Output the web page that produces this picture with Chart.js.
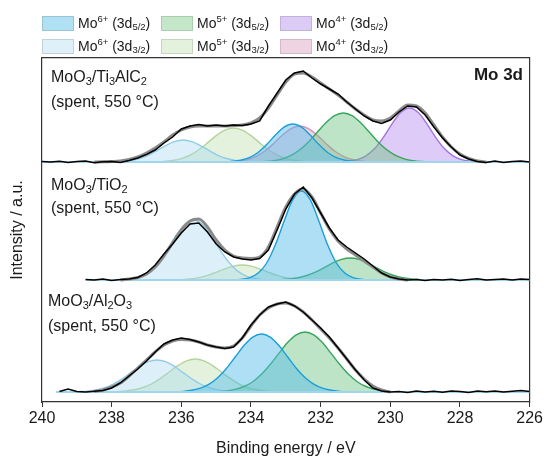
<!DOCTYPE html>
<html>
<head>
<meta charset="utf-8">
<script src="https://cdn.jsdelivr.net/npm/chart.js@4/dist/chart.umd.min.js"></script>
<style>
  html, body { margin: 0; padding: 0; background: #fff; }
  canvas { display: block; }
</style>
</head>
<body>
<canvas id="grafico" width="545" height="458"></canvas>
<script>
// energy grid of the measured spectra (eV)
const energia = [240, 239.75, 239.5, 239.25, 239, 238.75, 238.5, 238.25, 238, 237.75, 237.5, 237.25, 237, 236.75, 236.5, 236.25, 236, 235.75, 235.5, 235.25, 235, 234.75, 234.5, 234.25, 234, 233.75, 233.5, 233.25, 233, 232.75, 232.5, 232.25, 232, 231.75, 231.5, 231.25, 231, 230.75, 230.5, 230.25, 230, 229.75, 229.5, 229.25, 229, 228.75, 228.5, 228.25, 228, 227.75, 227.5, 227.25, 227, 226.75, 226.5, 226.25, 226];

// MoO3/Ti3AlC2 : measured + envelope
const tiExp = [0.5, 0, 0.8, -0.5, 0.5, 1, -0.8, 0.3, 0.5, -0.5, 1.5, 4, 7.5, 12, 19, 25, 33, 36, 37.5, 36, 37, 36, 37, 36.5, 38, 41, 56, 69, 82, 89, 91, 84, 78, 73, 68, 60, 53, 46, 41, 38.5, 42, 50, 56, 55, 47, 35, 24, 15, 7, 3, 0.5, -0.5, 1, -0.5, 0.5, 1, 0];
const tiEnv = [null, null, null, null, null, null, 0, 0.2, 0.5, 1, 2.5, 5, 9, 14, 20, 27, 32, 35, 36, 36, 36, 36, 36.5, 37, 39, 44, 54, 67, 80, 88, 89, 85, 79, 73, 67, 60, 53, 47, 42, 41, 44, 51, 57, 56, 49, 37, 25, 15, 8, 3.5, 1, 0, null, null, null, null, null];

// MoO3/TiO2
const tioExp = [null, null, null, null, null, 0.5, 0, 1, -0.5, 0.5, 1, 2.5, 7, 15, 26, 36, 47, 56, 57, 48, 36, 28, 23, 21, 20, 21.5, 30, 50, 71, 86, 93, 82, 67, 52, 40, 33, 27, 21, 14, 7, 3, 1, 0, 0.5, -0.5, 0.5, 0, 0.8, -0.5, 0.5, 1.2, 0, 0.5, 1, 0, 1, 0.5];
const tioEnv = [null, null, null, null, null, null, null, null, null, 0, 1, 2.5, 6, 13, 24, 37, 50, 59, 61, 53, 40, 30, 24, 22, 21.5, 23, 33, 53, 73, 86, 91, 83, 67, 51, 39, 31, 25, 19, 13, 7, 3, 1, 0, null, null, null, null, null, null, null, null, null, null, null, null, null, null];

// MoO3/Al2O3
const aloExp = [null, null, 0.5, 3, 0.5, 0, 0.8, 1.5, 4, 9, 16, 23, 31, 40, 48, 52, 54, 52.5, 50, 47, 45, 43.5, 45, 54, 67, 77, 85, 88, 90, 86, 80, 72, 64, 55, 44, 33, 22, 12, 4, 1, 0, 0.5, -0.5, 1, 0, 0.8, -0.3, 1, 0.5, -0.5, 1, 0.3, 1, 0, 0.8, 1.5, 0.5];
const aloEnv = [null, null, null, null, null, null, 0.5, 2, 5, 9, 16, 24, 32, 40, 47, 51, 52.5, 52, 50, 47, 45, 44, 46, 54, 66, 77, 84, 88, 89, 86, 80, 72, 63, 54, 44, 33, 22, 13, 6, 2, 0, null, null, null, null, null, null, null, null, null, null, null, null, null, null, null, null];

// where each measured range starts (eV)
const inicioMedida = { ti: 240, tio: 238.75, alo: 239.6 };

// fitted components: [binding energy, intensity]
const tiMo6_52 = [[234.8,0],[234.55,0.5],[234.3,1.7],[234.05,4.3],[233.8,9.5],[233.55,17.4],[233.3,26.9],[233.05,34.8],[232.8,38],[232.55,34.8],[232.3,26.9],[232.05,17.4],[231.8,9.5],[231.55,4.3],[231.3,1.7],[231.05,0.5],[230.8,0]];
const tiMo6_32 = [[237.95,0],[237.7,0.6],[237.45,1.5],[237.2,3.5],[236.95,6.7],[236.7,11.3],[236.45,16.4],[236.2,20.4],[235.95,22],[235.7,20.4],[235.45,16.4],[235.2,11.3],[234.95,6.7],[234.7,3.5],[234.45,1.5],[234.2,0.6],[233.95,0]];
const tiMo5_52 = [[233.85,0],[233.6,0.5],[233.35,1.4],[233.1,3.2],[232.85,6.6],[232.6,12.2],[232.35,20.1],[232.1,29.7],[231.85,39.2],[231.6,46.4],[231.35,49],[231.1,46.4],[230.85,39.2],[230.6,29.7],[230.35,20.1],[230.1,12.2],[229.85,6.6],[229.6,3.2],[229.35,1.4],[229.1,0.5],[228.85,0]];
const tiMo5_32 = [[236.75,0],[236.5,0.6],[236.25,1.5],[236,3.4],[235.75,6.9],[235.5,12.3],[235.25,19.1],[235,26.4],[234.75,31.9],[234.5,34],[234.25,31.9],[234,26.4],[233.75,19.1],[233.5,12.3],[233.25,6.9],[233,3.4],[232.75,1.5],[232.5,0.6],[232.25,0]];
const tiMo4_52 = [[231.45,0],[231.2,0.8],[230.95,2.4],[230.7,6.2],[230.45,13.4],[230.2,24.7],[229.95,38.2],[229.7,49.5],[229.45,54],[229.2,49.5],[228.95,38.2],[228.7,24.7],[228.45,13.4],[228.2,6.2],[227.95,2.4],[227.7,0.8],[227.45,0]];
const tiMo4_32 = [[234.6,0],[234.35,1],[234.1,2.5],[233.85,5.7],[233.6,11],[233.35,18.5],[233.1,26.8],[232.85,33.4],[232.6,36],[232.35,33.4],[232.1,26.8],[231.85,18.5],[231.6,11],[231.35,5.7],[231.1,2.5],[230.85,1],[230.6,0]];

const tioMo6_52 = [[234.55,0],[234.3,0.6],[234.05,2.2],[233.8,6.7],[233.55,17],[233.3,35.2],[233.05,58.8],[232.8,80.3],[232.55,89],[232.3,80.3],[232.05,58.8],[231.8,35.2],[231.55,17],[231.3,6.7],[231.05,2.2],[230.8,0.6],[230.55,0]];
const tioMo6_32 = [[237.65,0],[237.4,1.6],[237.15,4.2],[236.9,9.4],[236.65,18.4],[236.4,30.8],[236.15,44.6],[235.9,55.7],[235.65,60],[235.4,55.7],[235.15,44.6],[234.9,30.8],[234.65,18.4],[234.4,9.4],[234.15,4.2],[233.9,1.6],[233.65,0]];
const tioMo5_52 = [[233.4,0],[233.15,0.4],[232.9,1],[232.65,2.2],[232.4,4.5],[232.15,7.9],[231.9,12.4],[231.65,17.1],[231.4,20.6],[231.15,22],[230.9,20.6],[230.65,17.1],[230.4,12.4],[230.15,7.9],[229.9,4.5],[229.65,2.2],[229.4,1],[229.15,0.4],[228.9,0]];
const tioMo5_32 = [[236.25,0],[236,0.4],[235.75,1.1],[235.5,2.4],[235.25,4.6],[235,7.7],[234.75,11.2],[234.5,13.9],[234.25,15],[234,13.9],[233.75,11.2],[233.5,7.7],[233.25,4.6],[233,2.4],[232.75,1.1],[232.5,0.4],[232.25,0]];

const aloMo6_52 = [[236.2,0],[235.95,0.6],[235.7,1.7],[235.45,3.8],[235.2,7.8],[234.95,14.4],[234.7,23.8],[234.45,35.2],[234.2,46.5],[233.95,54.9],[233.7,58],[233.45,54.9],[233.2,46.5],[232.95,35.2],[232.7,23.8],[232.45,14.4],[232.2,7.8],[231.95,3.8],[231.7,1.7],[231.45,0.6],[231.2,0]];
const aloMo6_32 = [[239.2,0],[238.95,0.4],[238.7,0.9],[238.45,2.1],[238.2,4.3],[237.95,8],[237.7,13.2],[237.45,19.4],[237.2,25.6],[236.95,30.3],[236.7,32],[236.45,30.3],[236.2,25.6],[235.95,19.4],[235.7,13.2],[235.45,8],[235.2,4.3],[234.95,2.1],[234.7,0.9],[234.45,0.4],[234.2,0]];
const aloMo5_52 = [[234.95,0],[234.7,1.1],[234.45,2.6],[234.2,5.5],[233.95,10.3],[233.7,17.7],[233.45,27.5],[233.2,38.6],[232.95,49.4],[232.7,57.1],[232.45,60],[232.2,57.1],[231.95,49.4],[231.7,38.6],[231.45,27.5],[231.2,17.7],[230.95,10.3],[230.7,5.5],[230.45,2.6],[230.2,1.1],[229.95,0]];
const aloMo5_32 = [[238.1,0],[237.85,0.4],[237.6,1],[237.35,2.2],[237.1,4.5],[236.85,8.2],[236.6,13.6],[236.35,20],[236.1,26.4],[235.85,31.2],[235.6,33],[235.35,31.2],[235.1,26.4],[234.85,20],[234.6,13.6],[234.35,8.2],[234.1,4.5],[233.85,2.2],[233.6,1],[233.35,0.4],[233.1,0]];

// labels
const cargas = ['6+', '5+', '4+'];
const niveles = ['5/2', '3/2'];
const nombres = {
    ti: [['MoO', ''], ['3', 'sub'], ['/Ti', ''], ['3', 'sub'], ['AlC', ''], ['2', 'sub']],
    tio: [['MoO', ''], ['3', 'sub'], ['/TiO', ''], ['2', 'sub']],
    alo: [['MoO', ''], ['3', 'sub'], ['/Al', ''], ['2', 'sub'], ['O', ''], ['3', 'sub']]
};
const condicion = '(spent, 550 \u00B0C)';

// colours per component
const estilos = {
    '6+5/2': { line: '#1b9fd8', fill: 'rgba(85, 188, 235, 0.48)', box: '#afe0f4' },
    '6+3/2': { line: '#90cce9', fill: 'rgba(165, 215, 240, 0.38)', box: '#def0f8' },
    '5+5/2': { line: '#37a65a', fill: 'rgba(110, 195, 130, 0.45)', box: '#c4e7ca' },
    '5+3/2': { line: '#b3d49c', fill: 'rgba(185, 220, 165, 0.38)', box: '#e4f1dd' },
    '4+5/2': { line: '#a274e0', fill: 'rgba(185, 140, 238, 0.45)', box: '#ddcbf7' },
    '4+3/2': { line: '#d48fbb', fill: 'rgba(215, 150, 185, 0.38)', box: '#eed4e2' }
};

// vertical stacking of the three spectra
const desplazamiento = { ti: 240, tio: 122, alo: 10 };
const familia = "'Liberation Sans', Arial, sans-serif";

function componente(pares, panel, clave, orden) {
    const off = desplazamiento[panel];
    const est = estilos[clave];
    return {
        data: pares.map(p => ({ x: p[0], y: p[1] + off })),
        borderColor: est.line,
        backgroundColor: est.fill,
        borderWidth: 1.4,
        fill: { value: off },
        pointRadius: 0,
        cubicInterpolationMode: 'monotone',
        order: orden
    };
}

function medida(valores, panel, color, ancho, orden, suave) {
    const off = desplazamiento[panel];
    return {
        data: energia.map((e, i) => ({ x: e, y: valores[i] === null ? null : valores[i] + off })),
        borderColor: color,
        borderWidth: ancho,
        fill: false,
        pointRadius: 0,
        cubicInterpolationMode: suave ? 'monotone' : 'default',
        tension: 0,
        order: orden
    };
}

function linea_base(panel) {
    const off = desplazamiento[panel];
    return {
        data: [{ x: inicioMedida[panel], y: off }, { x: 226, y: off }],
        borderColor: '#9fd6ee',
        borderWidth: 2,
        fill: false,
        pointRadius: 0,
        order: 2
    };
}

const datasets = [];
['ti', 'tio', 'alo'].forEach(p => {
    datasets.push(medida({ ti: tiExp, tio: tioExp, alo: aloExp }[p], p, '#000000', 1.5, 0, false));
    datasets.push(medida({ ti: tiEnv, tio: tioEnv, alo: aloEnv }[p], p, '#8a8a8a', 3, 1, true));
    datasets.push(linea_base(p));
});
datasets.push(componente(tiMo6_32, 'ti', '6+3/2', 5));
datasets.push(componente(tiMo5_32, 'ti', '5+3/2', 5));
datasets.push(componente(tiMo4_32, 'ti', '4+3/2', 4));
datasets.push(componente(tiMo6_52, 'ti', '6+5/2', 3));
datasets.push(componente(tiMo5_52, 'ti', '5+5/2', 3));
datasets.push(componente(tiMo4_52, 'ti', '4+5/2', 3));
datasets.push(componente(tioMo6_32, 'tio', '6+3/2', 5));
datasets.push(componente(tioMo5_32, 'tio', '5+3/2', 5));
datasets.push(componente(tioMo6_52, 'tio', '6+5/2', 3));
datasets.push(componente(tioMo5_52, 'tio', '5+5/2', 3));
datasets.push(componente(aloMo6_32, 'alo', '6+3/2', 5));
datasets.push(componente(aloMo5_32, 'alo', '5+3/2', 5));
datasets.push(componente(aloMo6_52, 'alo', '6+5/2', 3));
datasets.push(componente(aloMo5_52, 'alo', '5+5/2', 3));

function escribir(ctx, partes, x, y, base, chico, sube, baja) {
    let cx = x;
    partes.forEach(([t, modo]) => {
        ctx.font = (modo ? chico : base) + 'px ' + familia;
        const dy = modo === 'sup' ? -sube : (modo === 'sub' ? baja : 0);
        ctx.fillText(t, cx, y + dy);
        cx += ctx.measureText(t).width;
    });
}

const textos = {
    id: 'textos',
    afterDraw(chart) {
        const ctx = chart.ctx;
        ctx.save();
        ctx.textBaseline = 'middle';
        ctx.textAlign = 'left';
        ctx.fillStyle = '#1a1a1a';
        // legend
        niveles.forEach((nv, fila) => {
            cargas.forEach((cg, col) => {
                const bx = 42 + col * 119;
                const by = 16 + fila * 23;
                ctx.fillStyle = estilos[cg + nv].box;
                ctx.fillRect(bx, by, 32, 15);
                ctx.strokeStyle = 'rgba(0,0,0,0.12)';
                ctx.lineWidth = 1;
                ctx.strokeRect(bx + 0.5, by + 0.5, 31, 14);
                ctx.fillStyle = '#1a1a1a';
                escribir(ctx, [['Mo', ''], [cg, 'sup'], [' (3d', ''], [nv, 'sub'], [')', '']], bx + 36, by + 8, 14, 9.5, 5, 3);
            });
        });
        // sample names
        const filas = { ti: [78, 103, 51], tio: [186, 209, 51], alo: [302, 327, 48] };
        Object.keys(filas).forEach(k => {
            const [y1, y2, x] = filas[k];
            escribir(ctx, nombres[k], x, y1, 16, 11, 5, 4);
            ctx.font = '16px ' + familia;
            ctx.fillText(condicion, x, y2);
        });
        ctx.font = 'bold 17px ' + familia;
        ctx.textAlign = 'right';
        ctx.fillText('Mo 3d', 523, 75);
        ctx.restore();
    }
};

new Chart(document.getElementById('grafico').getContext('2d'), {
    type: 'line',
    data: { datasets: datasets },
    options: {
        responsive: false,
        animation: false,
        devicePixelRatio: 1,
        layout: { padding: { top: 58, right: 14, left: 0, bottom: 0 } },
        plugins: { legend: { display: false }, tooltip: { enabled: false } },
        elements: { line: { capBezierPoints: true } },
        scales: {
            x: {
                type: 'linear', position: 'bottom', reverse: true, min: 226, max: 240,
                ticks: { stepSize: 2, color: '#1a1a1a', font: { size: 16, family: familia }, padding: 2, maxRotation: 0 },
                grid: { drawOnChartArea: false, drawTicks: true, tickLength: 5, color: '#333' },
                border: { display: true, color: '#333', width: 1.2 },
                title: { display: true, text: 'Binding energy / eV', color: '#1a1a1a', font: { size: 16, family: familia }, padding: { top: 0, bottom: 0 } },
                afterFit(scale) { scale.height = 56; }
            },
            x2: {
                type: 'linear', position: 'top', reverse: true, min: 226, max: 240,
                ticks: { display: false },
                grid: { drawOnChartArea: false, drawTicks: false },
                border: { display: true, color: '#333', width: 1.2 },
                afterFit(scale) { scale.height = 0; }
            },
            y: {
                type: 'linear', position: 'left', min: 0, max: 344,
                ticks: { display: false },
                grid: { display: false },
                border: { display: true, color: '#333', width: 1.2 },
                title: { display: true, text: 'Intensity / a.u.', color: '#1a1a1a', font: { size: 16, family: familia }, padding: { top: 8, bottom: 0 } },
                afterFit(scale) { scale.width = 42; }
            },
            y2: {
                type: 'linear', position: 'right', min: 0, max: 344,
                ticks: { display: false },
                grid: { display: false },
                border: { display: true, color: '#333', width: 1.2 },
                afterFit(scale) { scale.width = 0; }
            }
        }
    },
    plugins: [textos]
});
</script>
</body>
</html>
